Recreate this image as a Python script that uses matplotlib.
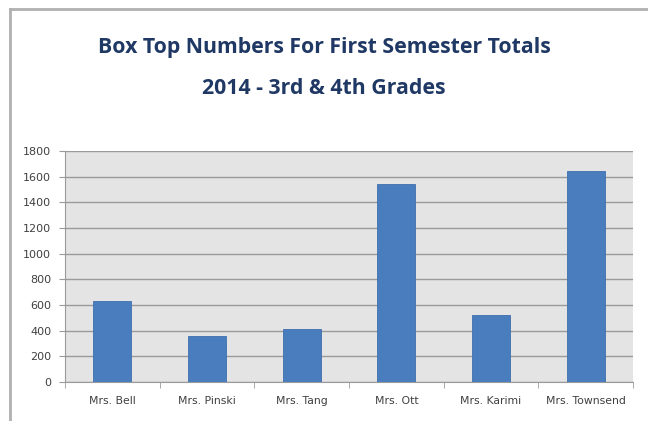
import matplotlib.pyplot as plt
from matplotlib.lines import Line2D

teachers = ["Mrs. Bell", "Mrs. Pinski", "Mrs. Tang", "Mrs. Ott", "Mrs. Karimi", "Mrs. Townsend"]
box_tops = [630, 355, 415, 1540, 525, 1645]
yticks = list(range(0, 1801, 200))

fig = plt.figure(figsize=(6.48, 4.21), dpi=100)
ax = fig.add_axes([65/648, 1 - 382/421, 568/648, 231/421])

ax.set_facecolor("#e4e4e4")
x = list(range(len(teachers)))
ax.bar(x, box_tops, width=0.4, color="#4a7dbd", edgecolor="#3f6fae", linewidth=0.6, zorder=3)

ax.set_xlim(-0.5, len(teachers) - 0.5)
ax.set_ylim(0, 1800)
ax.set_yticks(yticks)
ax.set_yticklabels([str(v) for v in yticks], fontsize=8, color="#404040")
ax.yaxis.grid(True, color="#9a9a9a", linewidth=1.0, zorder=1)
ax.set_xticks(x)
ax.set_xticklabels(teachers, fontsize=7.8, color="#404040")
ax.set_xticks([i - 0.5 for i in range(len(teachers) + 1)], minor=True)
ax.tick_params(axis="x", which="major", length=0, pad=10)
ax.tick_params(axis="x", which="minor", length=4, color="#9a9a9a", direction="out")
ax.tick_params(axis="y", length=4, color="#9a9a9a", pad=6)

for side in ["top", "right"]:
    ax.spines[side].set_visible(False)
ax.spines["left"].set_color("#9a9a9a")
ax.spines["bottom"].set_color("#9a9a9a")

fig.text(0.5, 1 - 48/421, "Box Top Numbers For First Semester Totals", ha="center", va="center",
         fontsize=15.3, fontweight="bold", color="#1f3864", family="Open Sans")
fig.text(0.5, 1 - 88/421, "2014 - 3rd & 4th Grades", ha="center", va="center",
         fontsize=15.3, fontweight="bold", color="#1f3864", family="Open Sans")

# outer frame: top and left edges only
fig.add_artist(Line2D([10/648, 1], [1 - 9/421, 1 - 9/421], transform=fig.transFigure, color="#b0b0b0", linewidth=2))
fig.add_artist(Line2D([10/648, 10/648], [0, 1 - 9/421], transform=fig.transFigure, color="#b0b0b0", linewidth=2))

plt.savefig("out.png", dpi=100)
